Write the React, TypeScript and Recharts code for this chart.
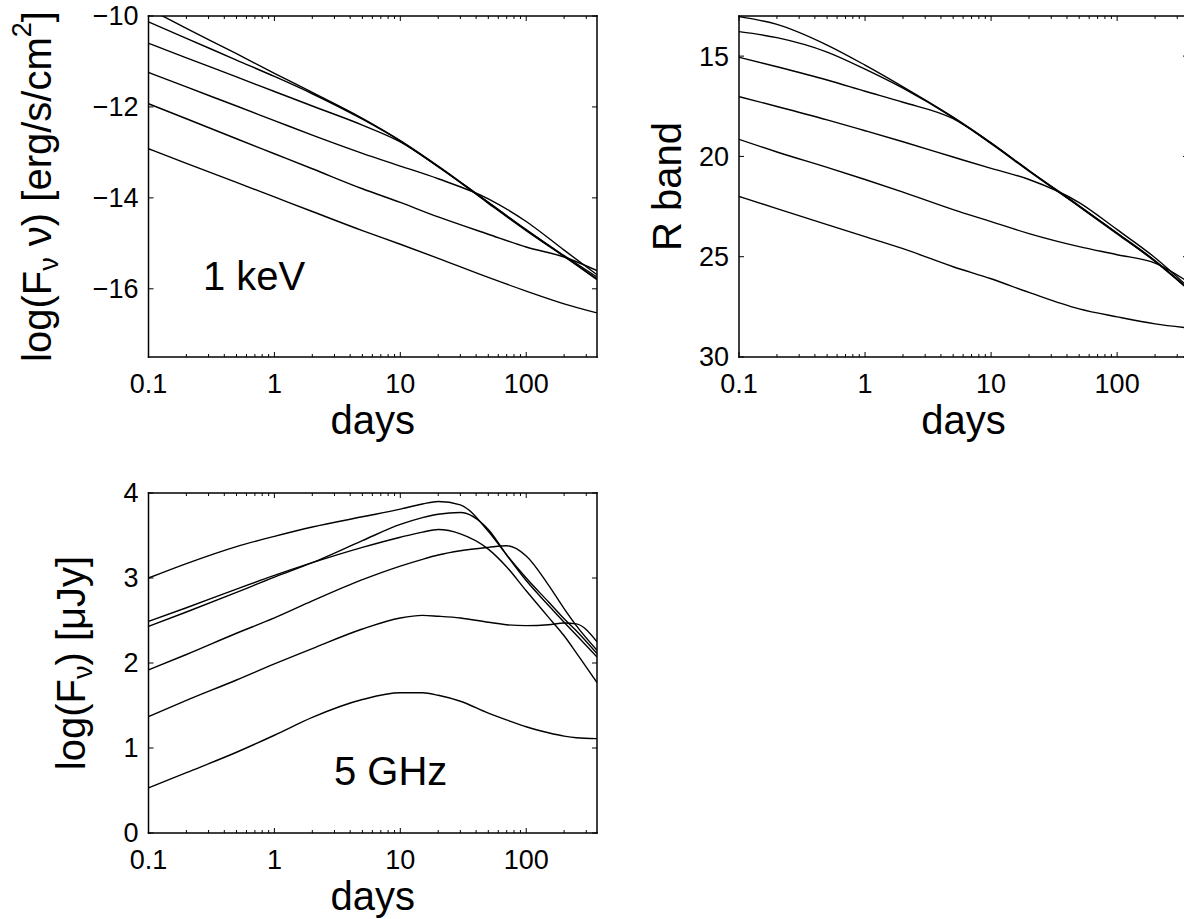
import React from 'react';
import { Line, LineChart, XAxis, YAxis } from 'recharts';

// sample times (days) shared by the X-ray and R band panels
const days = [0.1, 0.2, 0.5, 1, 2, 5, 10, 20, 50, 100, 200, 365];
// the radio curves have more structure, so more samples
const radioDays = [0.1, 0.2, 0.5, 1, 2, 5, 10, 15, 20, 30, 50, 70, 100, 150, 200, 250, 365];

// 1 keV, log(F_nu nu)
const xrayA = [-9.84, -10.27, -10.83, -11.26, -11.68, -12.25, -12.74, -13.3, -14.1, -14.7, -15.28, -15.8];
const xrayB = [-10.13, -10.49, -10.97, -11.33, -11.71, -12.27, -12.75, -13.31, -14.12, -14.72, -15.29, -15.78];
const xrayC = [-10.6, -10.92, -11.34, -11.66, -11.98, -12.4, -12.77, -13.32, -14.1, -14.71, -15.27, -15.74];
const xrayD = [-11.24, -11.56, -11.98, -12.3, -12.62, -13.02, -13.3, -13.58, -14.02, -14.52, -15.15, -15.69];
const xrayE = [-11.93, -12.26, -12.7, -13.03, -13.36, -13.8, -14.1, -14.42, -14.8, -15.08, -15.3, -15.6];
const xrayF = [-12.92, -13.24, -13.66, -13.98, -14.3, -14.72, -15.02, -15.33, -15.75, -16.05, -16.33, -16.53];

// R band magnitudes
const optA = [13.03, 13.42, 14.45, 15.45, 16.53, 18.04, 19.32, 20.7, 22.46, 23.82, 25.2, 26.58];
const optB = [13.78, 14.08, 14.8, 15.65, 16.6, 18.07, 19.34, 20.72, 22.48, 23.84, 25.22, 26.6];
const optC = [15.06, 15.53, 16.19, 16.75, 17.3, 18.12, 19.36, 20.74, 22.5, 23.86, 25.24, 26.62];
const optD = [17.02, 17.51, 18.18, 18.72, 19.27, 20.03, 20.6, 21.15, 22.3, 23.65, 25.05, 26.5];
const optE = [19.15, 19.78, 20.55, 21.15, 21.78, 22.65, 23.25, 23.85, 24.5, 24.9, 25.32, 26.25];
const optF = [22.0, 22.6, 23.4, 24.0, 24.6, 25.5, 26.1, 26.78, 27.6, 28.0, 28.35, 28.55];

// 5 GHz, log(F_nu) in microJy
const radioA = [3.0, 3.17, 3.37, 3.49, 3.6, 3.72, 3.81, 3.87, 3.9, 3.86, 3.55, 3.27, 3.0, 2.72, 2.52, 2.38, 2.11];
const radioB = [2.49, 2.65, 2.87, 3.03, 3.18, 3.36, 3.48, 3.54, 3.57, 3.52, 3.34, 3.13, 2.85, 2.54, 2.32, 2.12, 1.77];
const radioC = [2.43, 2.6, 2.83, 3.01, 3.18, 3.44, 3.63, 3.71, 3.75, 3.77, 3.57, 3.27, 2.97, 2.68, 2.48, 2.33, 2.07];
const radioD = [1.92, 2.1, 2.35, 2.53, 2.73, 2.98, 3.14, 3.22, 3.27, 3.32, 3.36, 3.38, 3.26, 2.92, 2.64, 2.44, 2.15];
const radioE = [1.37, 1.56, 1.8, 1.99, 2.17, 2.4, 2.53, 2.56, 2.55, 2.53, 2.48, 2.45, 2.44, 2.45, 2.47, 2.46, 2.25];
const radioF = [0.53, 0.71, 0.95, 1.15, 1.36, 1.57, 1.65, 1.65, 1.62, 1.55, 1.41, 1.33, 1.25, 1.18, 1.14, 1.12, 1.11];

const majorX = [0.1, 1, 10, 100];
const xTicks = [
  0.1, 0.2, 0.3, 0.4, 0.5, 0.6, 0.7, 0.8, 0.9,
  1, 2, 3, 4, 5, 6, 7, 8, 9,
  10, 20, 30, 40, 50, 60, 70, 80, 90,
  100, 200, 300,
];
const xrayTicks = [-16, -14, -12, -10];
const optTicks = [15, 20, 25, 30];
const radioTicks = [0, 1, 2, 3, 4];

const font = '"Liberation Sans", Arial, Helvetica, sans-serif';
const tickFont = 27;
const labelFont = 40;
const frame = { stroke: '#000', strokeWidth: 1.5, strokeLinecap: 'square' as const };

const toRows = (t: number[], series: number[][]) =>
  t.map((d, i) => {
    const row: Record<string, number> = { t: d };
    series.forEach((s, k) => (row['s' + k] = s[i]));
    return row;
  });

const xrayRows = toRows(days, [xrayA, xrayB, xrayC, xrayD, xrayE, xrayF]);
const optRows = toRows(days, [optA, optB, optC, optD, optE, optF]);
const radioRows = toRows(radioDays, [radioA, radioB, radioC, radioD, radioE, radioF]);
const keys = ['s0', 's1', 's2', 's3', 's4', 's5'];

const fmtY = (v: number) => (v < 0 ? '\u2212' + Math.abs(v) : String(v));

const bottomTick = (p: any) => {
  const v = p.payload.value;
  const major = majorX.includes(v);
  return (
    <g>
      <line x1={p.x} x2={p.x} y1={p.y} y2={p.y - (major ? 5 : 3)} stroke="#000" strokeWidth={1} />
      {major && (
        <text x={p.x} y={p.y + 36} textAnchor="middle" fontSize={tickFont} fontFamily={font} fill="#000">
          {String(v)}
        </text>
      )}
    </g>
  );
};

const topTick = (p: any) => {
  const major = majorX.includes(p.payload.value);
  return <line x1={p.x} x2={p.x} y1={p.y} y2={p.y + (major ? 5 : 3)} stroke="#000" strokeWidth={1} />;
};

const leftTick = (p: any) => (
  <g>
    <line x1={p.x} x2={p.x + 5} y1={p.y} y2={p.y} stroke="#000" strokeWidth={1} />
    <text x={p.x - 10} y={p.y} dy="0.35em" textAnchor="end" fontSize={tickFont} fontFamily={font} fill="#000">
      {fmtY(p.payload.value)}
    </text>
  </g>
);

const rightTick = (p: any) => <line x1={p.x} x2={p.x - 5} y1={p.y} y2={p.y} stroke="#000" strokeWidth={1} />;

type PanelProps = {
  data: Record<string, number>[];
  width: number;
  height: number;
  box: { left: number; top: number; right: number; bottom: number };
  yDomain: [number, number];
  yTicks: number[];
  reversed?: boolean;
};

// axes are 1px thick so they still render; the margins take that pixel back
const AX = 1;

function Panel({ data, width, height, box, yDomain, yTicks, reversed }: PanelProps) {
  const xProps = {
    dataKey: 't',
    type: 'number' as const,
    scale: 'log' as const,
    domain: [0.1, 365],
    allowDataOverflow: true,
    ticks: xTicks,
    interval: 0,
    height: AX,
    tickSize: 0,
    tickMargin: 0,
    tickLine: false,
    axisLine: frame,
  };
  const yProps = {
    type: 'number' as const,
    domain: yDomain,
    allowDataOverflow: true,
    reversed,
    ticks: yTicks,
    interval: 0,
    width: AX,
    tickSize: 0,
    tickMargin: 0,
    tickLine: false,
    axisLine: frame,
  };
  return (
    <div style={{ position: 'absolute', left: 0, top: 0 }}>
      <LineChart
        width={width}
        height={height}
        data={data}
        margin={{
          top: box.top - AX,
          left: box.left - AX,
          right: width - box.right - AX,
          bottom: height - box.bottom - AX,
        }}
      >
        <XAxis xAxisId="b" {...xProps} tick={bottomTick} />
        <XAxis xAxisId="t" orientation="top" {...xProps} tick={topTick} />
        <YAxis yAxisId="l" {...yProps} tick={leftTick} />
        <YAxis yAxisId="r" orientation="right" {...yProps} tick={rightTick} />
        {keys.map((k) => (
          <Line
            key={k}
            xAxisId="b"
            yAxisId="l"
            dataKey={k}
            type="monotone"
            stroke="#000"
            strokeWidth={1.4}
            dot={false}
            activeDot={false}
            isAnimationActive={false}
          />
        ))}
      </LineChart>
    </div>
  );
}

export default function App() {
  const txt = { fontFamily: font, fontSize: labelFont, fill: '#000' };
  return (
    <div style={{ position: 'absolute', left: 0, top: 0, width: 1184, height: 919, overflow: 'hidden', background: '#fff' }}>
      <Panel data={xrayRows} width={600} height={460} box={{ left: 148.5, top: 16, right: 597, bottom: 357 }} yDomain={[-17.5, -10]} yTicks={xrayTicks} />
      <Panel data={optRows} width={1200} height={460} box={{ left: 739, top: 16, right: 1188, bottom: 357 }} yDomain={[13, 30]} yTicks={optTicks} reversed />
      <Panel data={radioRows} width={600} height={919} box={{ left: 148.5, top: 493, right: 597, bottom: 833 }} yDomain={[0, 4]} yTicks={radioTicks} />
      <svg width={1184} height={919} style={{ position: 'absolute', left: 0, top: 0, pointerEvents: 'none' }}>
        <text {...txt} transform="translate(51,186.5) rotate(-90)" textAnchor="middle">
          log(F<tspan fontSize={27} dy={7}>ν</tspan>
          <tspan dy={-7}> ν) [erg/s/cm</tspan>
          <tspan fontSize={27} dy={-20}>2</tspan>
          <tspan dy={20}>]</tspan>
        </text>
        <text {...txt} transform="translate(681,186.5) rotate(-90)" textAnchor="middle">R band</text>
        <text {...txt} transform="translate(85,663) rotate(-90)" textAnchor="middle">
          log(F<tspan fontSize={27} dy={7}>ν</tspan>
          <tspan dy={-7}>) [μJy]</tspan>
        </text>
        <text {...txt} x={372.75} y={434} textAnchor="middle">days</text>
        <text {...txt} x={963.5} y={434} textAnchor="middle">days</text>
        <text {...txt} x={372.75} y={910} textAnchor="middle">days</text>
        <text {...txt} x={203} y={290}>1 keV</text>
        <text {...txt} x={334} y={785}>5 GHz</text>
      </svg>
    </div>
  );
}
